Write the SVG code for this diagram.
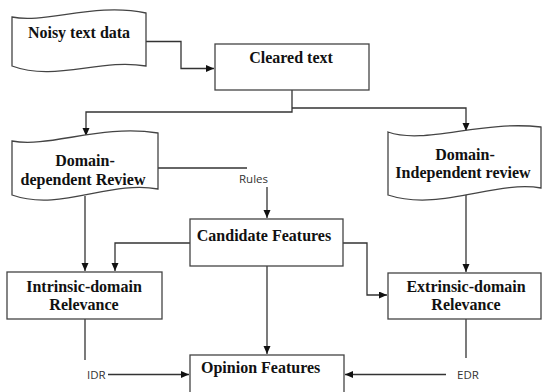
<svg xmlns="http://www.w3.org/2000/svg" width="542" height="392" viewBox="0 0 542 392">
<style>
.shape{fill:#fff;stroke:#444;stroke-width:1.3}
.t{font-family:"Liberation Serif","Times New Roman",serif;font-weight:bold;font-size:16px;fill:#111;text-anchor:middle}
.lbl{font-family:"Open Sans","Noto Sans",sans-serif;font-size:11.5px;fill:#333}
.c{fill:none;stroke:#333;stroke-width:1.3}
</style>
<defs>
<marker id="ah" markerWidth="9" markerHeight="8" refX="8" refY="3.5" orient="auto" markerUnits="userSpaceOnUse">
<path d="M0,0 L8,3.5 L0,7 z" fill="#111"/>
</marker>
</defs>
<rect width="542" height="392" fill="#fff"/>
<g id="connectors">
<path class="c" d="M146,41.5 H181 V68.5 H214" marker-end="url(#ah)"/>
<path class="c" d="M292,90 V112 H86 V136" marker-end="url(#ah)"/>
<path class="c" d="M292,108 H466 V131" marker-end="url(#ah)"/>
<path class="c" d="M158,168 H247"/>
<path class="c" d="M267,187 V218" marker-end="url(#ah)"/>
<path class="c" d="M85,196 V271" marker-end="url(#ah)"/>
<path class="c" d="M190,243 H115 V271" marker-end="url(#ah)"/>
<path class="c" d="M343,243 H367 V295 H387" marker-end="url(#ah)"/>
<path class="c" d="M466,193 V272" marker-end="url(#ah)"/>
<path class="c" d="M267,266 V354" marker-end="url(#ah)"/>
<path class="c" d="M85,319 V360"/>
<path class="c" d="M108,374.5 H189" marker-end="url(#ah)"/>
<path class="c" d="M466,319 V358"/>
<path class="c" d="M446,374.5 H345" marker-end="url(#ah)"/>
</g>
<g id="noisy">
<path class="shape" d="M12,17 C45,24 95,2 146,13 L146,66 C100,58 55,82 12,66 Z"/>
<text class="t" x="79" y="38">Noisy text data</text>
</g>
<g id="cleared">
<rect class="shape" x="215" y="44" width="154" height="46"/>
<text class="t" x="291" y="63">Cleared text</text>
</g>
<g id="domain-dependent">
<path class="shape" d="M12,141 C50,148 100,124 158,133 L158,189 C110,180 60,212 12,195 Z"/>
<text class="t" x="85" y="166">Domain-</text>
<text class="t" x="83" y="185">dependent Review</text>
</g>
<g id="domain-independent">
<path class="shape" d="M388,132 C425,145 480,120 541,127 L541,188 C495,180 440,212 388,195 Z"/>
<text class="t" x="465" y="160">Domain-</text>
<text class="t" x="463" y="178">Independent review</text>
</g>
<g id="rules">
<text class="lbl" x="239" y="183">Rules</text>
</g>
<g id="candidate">
<rect class="shape" x="190" y="219" width="153" height="47"/>
<text class="t" x="264" y="241">Candidate Features</text>
</g>
<g id="intrinsic">
<rect class="shape" x="7" y="272" width="155" height="47"/>
<text class="t" x="84" y="292">Intrinsic-domain</text>
<text class="t" x="84" y="310">Relevance</text>
</g>
<g id="extrinsic">
<rect class="shape" x="388" y="273" width="153" height="46"/>
<text class="t" x="466" y="292">Extrinsic-domain</text>
<text class="t" x="466" y="310">Relevance</text>
</g>
<g id="idr"><text class="lbl" x="87" y="378.5">IDR</text></g>
<g id="edr"><text class="lbl" x="457" y="378.5">EDR</text></g>
<g id="opinion">
<rect class="shape" x="190" y="355" width="154" height="50"/>
<text class="t" x="201" y="373" style="text-anchor:start">Opinion Features</text>
</g>
</svg>
